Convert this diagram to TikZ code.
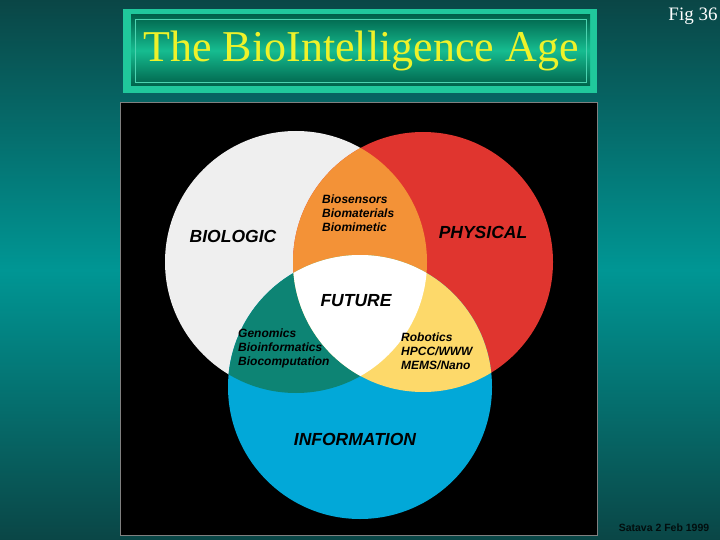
\documentclass[tikz,border=0pt]{standalone}
\usepackage{fontspec}
\setmainfont{Liberation Serif}
\setsansfont{Liberation Sans}
\usetikzlibrary{positioning}
\definecolor{bgdark}{HTML}{0A4646}
\definecolor{bglight}{HTML}{009694}
\definecolor{boxband}{HTML}{20C89C}
\definecolor{boxdark}{HTML}{00624A}
\definecolor{boxlight}{HTML}{16BC90}
\definecolor{titleyellow}{HTML}{EEF22A}
\definecolor{bioc}{HTML}{EFEFEF}
\definecolor{physc}{HTML}{E0352F}
\definecolor{infoc}{HTML}{02A8D8}
\definecolor{orangec}{HTML}{F39237}
\definecolor{tealc}{HTML}{0D8474}
\definecolor{yellowc}{HTML}{FDD96A}

\begin{document}
\begin{tikzpicture}[x=1pt,y=-1pt,
    bigword/.style={inner sep=0pt,font=\sffamily\bfseries\itshape\fontsize{17.5}{20}\selectfont},
    smallword/.style={inner sep=0pt,align=left,anchor=west,
      font=\sffamily\bfseries\itshape\fontsize{12}{14}\selectfont}]
      \useasboundingbox (0,0) rectangle (720,540);
      % background
      \shade[top color=bgdark,bottom color=bgdark,middle color=bglight] (0,0) rectangle (720,540);

      % title box
      \fill[boxband] (123,9) rectangle (597,93);
      \shade[top color=boxdark,bottom color=boxdark,middle color=boxlight] (131,15) rectangle (590,86);
      \draw[boxband!80!white,line width=0.6pt] (135,19) rectangle (586,82);
      \node at (361,51) [inner sep=0pt, text=titleyellow, name=title]
      {\fontsize{44}{50}\selectfont The BioIntelligence Age};
      \node at (693,16) [inner sep=0pt, text=white, name=fig]
      {\fontsize{19}{22}\selectfont Fig 36};

      % panel
      \fill[black] (120,102) rectangle (597,535);
      \draw[gray,line width=0.6pt] (120,102) rectangle (597,535);

      % circles
      \fill[bioc] (296,262) circle (131);
      \fill[physc] (423,262) circle (130);
      \fill[infoc] (360,387) circle (132);
      \begin{scope}
        \clip (296,262) circle (131);
        \fill[orangec] (423,262) circle (130);
        \fill[tealc] (360,387) circle (132);
      \end{scope}
      \begin{scope}
        \clip (423,262) circle (130);
        \fill[yellowc] (360,387) circle (132);
        \clip (296,262) circle (131);
        \fill[white] (360,387) circle (132);
      \end{scope}

      % labels
      \node at (233,236) [bigword, name=biologic] {BIOLOGIC};
      \node at (483,232) [bigword, name=physical] {PHYSICAL};
      \node at (356,301) [bigword, name=future] {FUTURE};
      \node at (355,439) [bigword, name=information] {INFORMATION};
      \node at (322,213) [smallword, name=biomat]
      {Biosensors\\Biomaterials\\Biomimetic};
      \node at (238,348) [smallword, name=genomics]
      {Genomics\\Bioinformatics\\Biocomputation};
      \node at (401,351) [smallword, name=robotics]
      {Robotics\\HPCC/WWW\\MEMS/Nano};

      \node at (664,528) [inner sep=0pt, text=black!80!bgdark, name=satava,
        font=\sffamily\bfseries\fontsize{10.5}{12}\selectfont] {Satava 2 Feb 1999};
    \end{tikzpicture}
\end{document}
